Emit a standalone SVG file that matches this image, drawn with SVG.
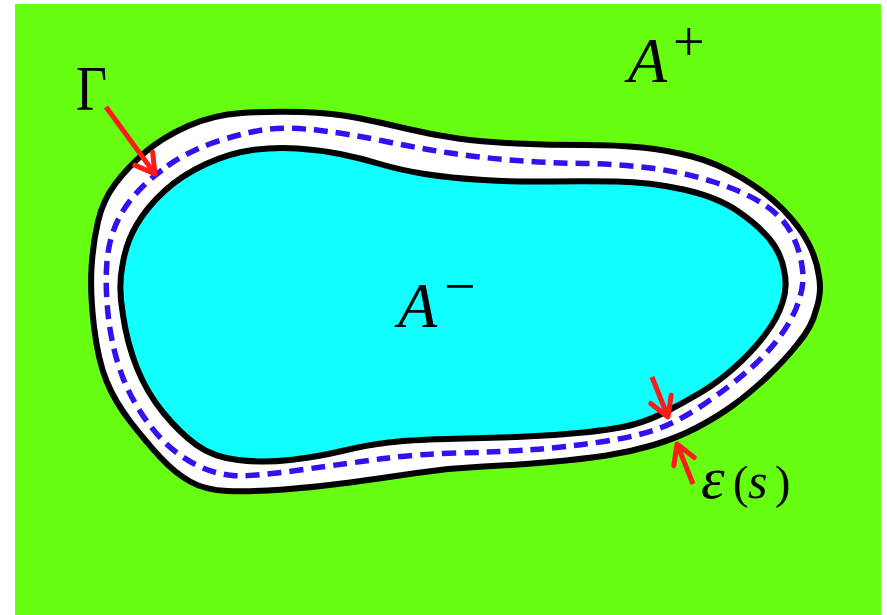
<svg xmlns="http://www.w3.org/2000/svg" width="887" height="615" viewBox="0 0 887 615">
<style>
.bg{fill:#66ff11}
.outer{fill:#ffffff;stroke:#000;stroke-width:6;stroke-linejoin:round}
.inner{fill:#10ffff;stroke:#000;stroke-width:6;stroke-linejoin:round}
.mid{fill:none;stroke:#3311ee;stroke-width:5.5;stroke-dasharray:14 8}
.arrow{fill:none;stroke:#ff1a1a;stroke-width:5;marker-end:url(#ah)}
.lbl{font-family:"Liberation Serif","Times New Roman",serif;fill:#000}
.it{font-style:italic}
</style>
<defs>
<marker id="ah" markerUnits="userSpaceOnUse" viewBox="-30 -20 40 40" markerWidth="40" markerHeight="40" refX="0" refY="0" orient="auto" overflow="visible">
<path d="M-19,-11 L0,0 L-19,11" fill="none" stroke="#ff1a1a" stroke-width="5" stroke-linejoin="round" stroke-linecap="round"/>
</marker>
</defs>
<rect class="bg" x="15" y="4" width="866" height="611"/>
<g id="band">
<path class="outer" d="M188,126 Q213,115 241.5,113 Q270,111 301.5,112 Q333,113 358,118 Q383,123 408,129 Q433,135 458,138.5 Q483,142 516.5,143.5 Q550,145 583.5,145 Q617,145 642,147.5 Q667,150 692,156.5 Q717,163 742,178 Q767,193 783.5,210 Q800,227 808.5,243.5 Q817,260 819,276.5 Q822,293 816,310 Q812,327 798,343.5 Q785,360 767.5,376.5 Q750,393 733.5,405 Q717,417 697,427.5 Q677,438 653.5,445 Q630,452 606.5,455.5 Q583,459 550,462 Q517,465 483.5,466.5 Q450,468 416.5,473 Q383,478 350,482.5 Q317,487 283.5,489.5 Q250,492 227.5,491 Q205,490 190,481.5 Q175,473 161,458 Q147,443 131,422.5 Q115,402 106.5,381 Q98,360 94,326.5 Q90,293 91.5,268 Q93,243 98,221.5 Q103,200 115.5,183.5 Q128,167 145.5,152 Q163,137 188,126 Z"/>
</g>
<g id="A-minus-region">
<path class="inner" d="M206,164 Q230,153 252.5,150 Q275,147 297.5,148.5 Q320,150 340,154 Q360,158 380,164 Q400,170 425,174 Q450,178 483.5,180 Q517,182 550,181.5 Q583,181 616.5,181.5 Q650,182 683.5,189.5 Q717,197 737.5,211 Q758,225 769.5,239 Q781,253 784,270 Q788,287 782.5,302.5 Q778,318 764.5,335.5 Q751,353 734,368 Q717,383 700,393 Q683,403 666.5,411.5 Q650,420 633.5,424.5 Q617,429 583.5,432.5 Q550,436 516.5,437 Q483,438 446.5,439 Q410,440 388.5,442.5 Q367,445 342,451 Q317,457 290,460 Q263,463 238,460 Q213,457 196.5,445 Q180,433 163.5,413 Q147,393 137,368 Q127,343 123,315 Q118,287 122.5,265 Q126,243 136.5,225 Q147,207 164.5,191 Q182,175 206,164 Z"/>
</g>
<g id="gamma-curve">
<path class="mid" d="M167.5,166 Q190,150 220,140.5 Q250,131 270,129 Q290,127 320,130.5 Q350,134 383.5,141 Q417,148 450,153 Q483,158 516.5,160.5 Q550,163 583.5,163.5 Q617,164 650,168 Q683,172 714,182 Q745,192 764,204.5 Q783,217 791.5,233.5 Q800,250 802,266.5 Q805,283 799,300 Q794,317 781,335 Q768,353 750.5,368.5 Q733,384 708,401.5 Q683,419 661.5,427.5 Q640,436 603.5,441.5 Q567,447 533.5,449.5 Q500,452 458.5,453 Q417,454 383.5,458.5 Q350,463 300,470 Q250,477 232.5,475.5 Q215,474 197.5,465.5 Q180,457 165,442.5 Q150,428 136.5,405.5 Q123,383 115.5,355 Q108,327 106.5,293.5 Q105,260 111,238.5 Q117,217 131,199.5 Q145,182 167.5,166 Z"/>
</g>
<g id="connectors">
<line class="arrow" x1="106" y1="107" x2="155" y2="174"/>
<line class="arrow" x1="652" y1="377" x2="668" y2="417"/>
<line class="arrow" x1="693" y1="484" x2="677" y2="444"/>
</g>
<g id="label-gamma">
<text class="lbl" x="76" y="110" font-size="64" textLength="31" lengthAdjust="spacingAndGlyphs">Γ</text>
</g>
<g id="label-A-plus">
<text class="lbl it" x="628" y="82" font-size="64">A</text>
<text class="lbl" x="673" y="61" font-size="56">+</text>
</g>
<g id="label-A-minus">
<text class="lbl it" x="398" y="327" font-size="64">A</text>
<text class="lbl" x="444" y="305" font-size="56">−</text>
</g>
<g id="label-eps">
<text class="lbl it" x="701" y="498" font-size="60">ε</text>
<text class="lbl" x="733" y="498" font-size="46">(</text>
<text class="lbl it" x="748" y="498" font-size="50">s</text>
<text class="lbl" x="775" y="498" font-size="46">)</text>
</g>
</svg>
